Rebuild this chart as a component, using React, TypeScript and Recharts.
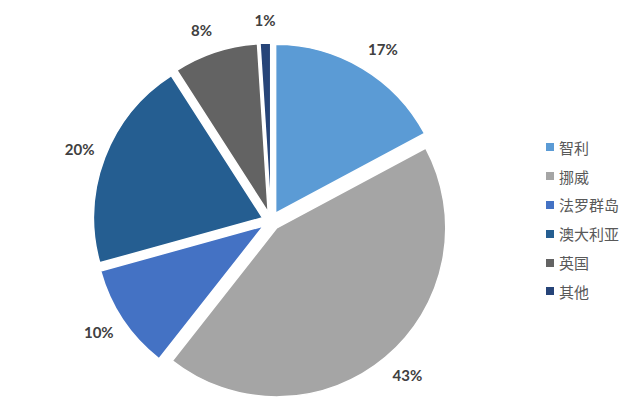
import React from 'react';
import { PieChart, Pie, Cell, Legend, Sector } from 'recharts';

const countries = ['智利', '挪威', '法罗群岛', '澳大利亚', '英国', '其他'];
const shares = [17, 43, 10, 20, 8, 1];
const colors = ['#5B9BD5', '#A5A5A5', '#4472C4', '#255E91', '#636363', '#264478'];

const data = countries.map((name, i) => ({ name, value: shares[i] }));

const RAD = Math.PI / 180;
const EXPLODE = 9;

// push each slice out along its mid angle, like an exploded excel pie
const ExplodedSlice = (props: any) => {
  const { cx, cy, innerRadius, outerRadius, startAngle, endAngle, fill } = props;
  const mid = (startAngle + endAngle) / 2;
  const dx = EXPLODE * Math.cos(-mid * RAD);
  const dy = EXPLODE * Math.sin(-mid * RAD);
  return (
    <Sector
      cx={cx + dx}
      cy={cy + dy}
      innerRadius={innerRadius}
      outerRadius={outerRadius}
      startAngle={startAngle}
      endAngle={endAngle}
      fill={fill}
      stroke="#ffffff"
      strokeWidth={1.5}
    />
  );
};

const renderLabel = (props: any) => {
  const { cx, cy, midAngle, outerRadius, value } = props;
  const c = Math.cos(-midAngle * RAD);
  const s = Math.sin(-midAngle * RAD);
  const x = cx + (outerRadius + 20) * c;
  const y = cy + (outerRadius + 32) * s;
  const anchor = Math.abs(c) < 0.1 ? 'middle' : c > 0 ? 'start' : 'end';
  return (
    <text
      x={x}
      y={y}
      textAnchor={anchor}
      dominantBaseline="central"
      fill="#404040"
      fontSize={15}
      fontWeight="bold"
      fontFamily="Lato, 'Open Sans', sans-serif"
    >
      {value}%
    </text>
  );
};

const LegendList = () => (
  <div style={{ fontFamily: "'Noto Sans CJK SC', sans-serif", fontSize: 15, color: '#595959' }}>
    {countries.map((name, i) => (
      <div key={name} style={{ display: 'flex', alignItems: 'center', height: 28.8 }}>
        <span style={{ width: 8, height: 8, background: colors[i], display: 'inline-block', marginRight: 5 }} />
        <span>{name}</span>
      </div>
    ))}
  </div>
);

const App = () => {
  const pieProps: any = {
    shape: ExplodedSlice,
    inactiveShape: ExplodedSlice,
    activeShape: ExplodedSlice,
  };
  return (
    <div style={{ position: 'absolute', left: 0, top: 0, background: '#fff' }}>
      <PieChart width={633} height={406}>
        <Pie
          data={data}
          dataKey="value"
          nameKey="name"
          cx={266}
          cy={216}
          outerRadius={169}
          startAngle={90}
          endAngle={-270}
          label={renderLabel}
          labelLine={false}
          isAnimationActive={false}
          {...pieProps}
        >
          {data.map((d, i) => (
            <Cell key={d.name} fill={colors[i]} />
          ))}
        </Pie>
        <Legend
          content={<LegendList />}
          wrapperStyle={{ left: 546, top: 133, width: 90 }}
        />
      </PieChart>
    </div>
  );
};

export default App;
